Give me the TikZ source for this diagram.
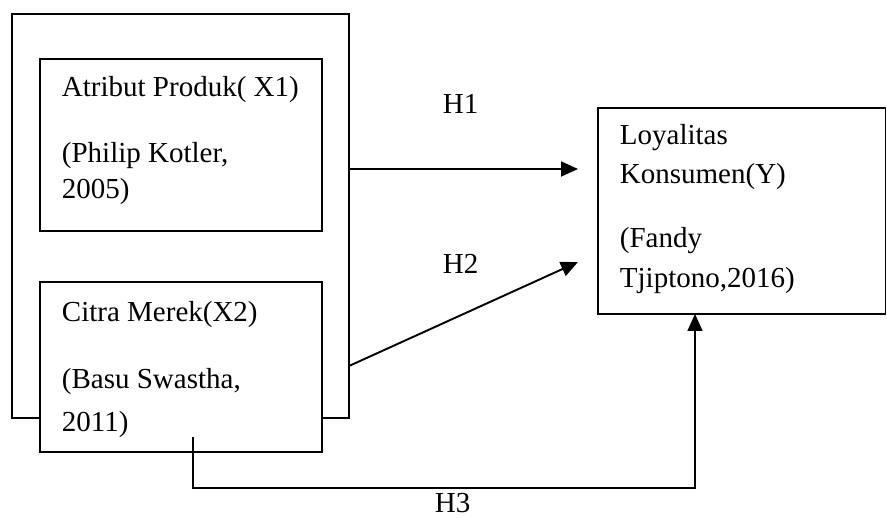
\documentclass[tikz,border=0pt]{standalone}
\usepackage{fontspec}
\setmainfont{Liberation Serif}
\usetikzlibrary{arrows.meta,calc}
\begin{document}
\begin{tikzpicture}[x=1pt,y=-1pt,line width=1.9pt,
  box/.style={draw,fill=white,inner sep=0pt,outer sep=0pt,anchor=north west},
  lbl/.style={anchor=base west,inner sep=0pt,font=\fontsize{29}{34}\selectfont},
  arr/.style={-{Triangle[length=17pt,width=15pt]}}]
\useasboundingbox (0,0) rectangle (887,518);
\node[box,minimum width=337.3pt,minimum height=404pt] (outer) at (11.7,14) {};
\node[box,minimum width=282pt,minimum height=172pt] (X1) at (40,59) {};
\node[box,minimum width=282pt,minimum height=170pt] (X2) at (40,282) {};
\node[box,minimum width=287.8pt,minimum height=206pt] (Y) at (597.7,108) {};
\node[lbl] (t1a) at (61,97) {Atribut Produk( X1)};
\node[lbl] (t1b) at (61,163) {(Philip Kotler,};
\node[lbl] (t1c) at (61,199) {2005)};
\node[lbl] (t2a) at (61,322) {Citra Merek(X2)};
\node[lbl] (t2b) at (61,389) {(Basu Swastha,};
\node[lbl] (t2c) at (61,432) {2011)};
\node[lbl] (tya) at (619,145) {Loyalitas};
\node[lbl] (tyb) at (619,184) {Konsumen(Y)};
\node[lbl] (tyc) at (619,248) {(Fandy};
\node[lbl] (tyd) at (619,288) {Tjiptono,2016)};
\node[lbl] (h1) at (442,114) {H1};
\node[lbl] (h2) at (442,274) {H2};
\node[lbl] (h3) at (434,513) {H3};
\coordinate (h2end) at (578,262);
\coordinate (h3start) at (193,437);
\draw[arr,shorten >=19.7pt] (outer.east |- 0,169) -- (Y.west |- 0,169);
\draw[arr] (outer.east |- 0,366) -- (h2end);
\draw[arr,line width=1.6pt] (h3start) -- ++(0,51) -| (Y.south -| 695,0);
\end{tikzpicture}
\end{document}
